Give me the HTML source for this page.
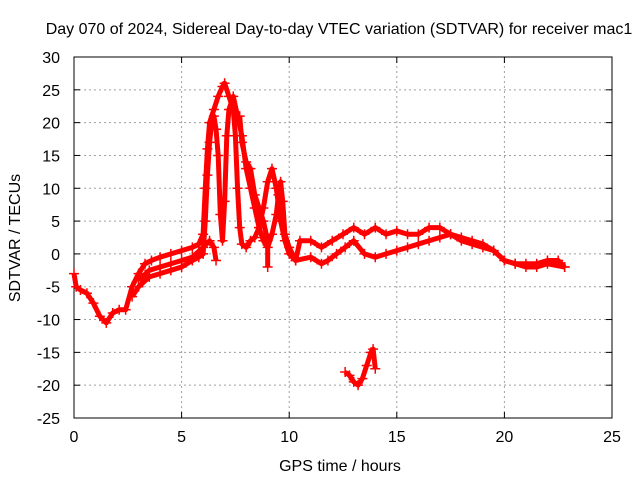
<!DOCTYPE html>
<html><head><meta charset="utf-8"><style>
body{margin:0;background:#fff}
svg text{font-family:"Liberation Sans",sans-serif;font-size:16px;fill:#000}
</style></head><body>
<svg id="c" width="640" height="480" xmlns="http://www.w3.org/2000/svg"></svg>
<script>
const xTicks=[0,5,10,15,20,25];
const yTicks=[-25,-20,-15,-10,-5,0,5,10,15,20,25,30];
const trackUpperHours=[0,0.1,0.3,0.6,0.9,1.2,1.5,1.8,2.1,2.4,2.7,3.0,3.3,3.6,4.0,4.5,5.0,5.5,5.8,6.0,6.1,6.2,6.3,6.5,6.7,6.9,7.0,7.2,7.4,7.5,7.6,7.7,7.8,8.0,8.2,8.4,8.6,8.8,9.0,9.2,9.4,9.6,9.8,10.0,10.3,10.5,11,11.5,12,12.5,13,13.5,14,14.5,15,15.5,16,16.5,17,17.5,18,18.5,19,19.5,20,20.5,21,21.5,22,22.5,22.8];
const trackUpperValues=[-3,-5,-5.5,-6,-7.5,-9.5,-10.5,-9,-8.5,-8.5,-5,-3,-1.5,-1,-0.5,0,0.5,1,1.5,3,10,16,20,22,24,25.5,26,24,22,18,10,4,1.5,1,2,2.5,4,7,11,13,10,5,2,0,-1,2,2,1,2,3,4,3,4,3,3.5,3,3,4,4,3,2.5,2,1.5,0.5,-1,-1.5,-1.5,-1.5,-1,-1,-2];
const trackLowerHours=[2.7,3.0,3.5,4.0,4.5,5.0,5.5,5.8,6.0,6.1,6.2,6.3,6.4,6.5,6.6,6.7,6.8,6.9,7.0,7.1,7.2,7.4,7.6,7.8,8.0,8.2,8.4,8.6,8.8,9.0,9.2,9.4,9.5,9.6,9.7,9.8,10.0,10.3,11,11.5,11.8,12.2,12.6,13,13.5,14,14.5,15,15.5,16,16.5,17,17.5,18,18.5,19,19.5,20,20.5,21,21.5,22,22.8];
const trackLowerValues=[-6.5,-5,-3.5,-3,-2.5,-2,-1,-0.5,0,5,12,17,20,21,19,15,6,2,8,18,22,24,21,18,13,10,7,4,2,1,3,6,9,11,8,3,1,-1,-0.5,-1.5,-1,0,1,2,0,-0.5,0,0.5,1,1.5,2,2.5,3,2,1.5,1,0.5,-1,-1.5,-2,-2,-1.5,-2];
const trackMidHours=[3.0,3.5,4.0,4.5,5.0,5.5,6.0,6.3,6.5,6.6];
const trackMidValues=[-4,-2.5,-2,-1.5,-1,-0.5,1,2,1,-1];
const trackBranchHours=[7.7,7.8,8.0,8.2,8.4,8.6,8.8,9.0,9.0];
const trackBranchValues=[21,17,14,13,9,7,5,2,-2];
const trackIsoHours=[12.6,12.8,13.0,13.2,13.4,13.6,13.8,13.9,14.0];
const trackIsoValues=[-18,-18.5,-19.5,-20,-19,-17,-15,-14.5,-17.5];
const NS="http://www.w3.org/2000/svg",svg=document.getElementById('c');
const X0=74,X1=612,Y0=418,Y1=57;
const sx=h=>X0+(h-0)/25*(X1-X0);
const sy=v=>Y0-(v+25)/55*(Y0-Y1);
function el(t,a){const e=document.createElementNS(NS,t);for(const k in a)e.setAttribute(k,a[k]);svg.appendChild(e);return e;}
xTicks.forEach(t=>{const x=sx(t);
 if(t>0&&t<25){const g=el('line',{x1:x,x2:x,y1:Y0,y2:Y1,stroke:'#a0a0a0','stroke-dasharray':'2,3'});
 
 }
 const tx=el('text',{x:x,y:Y0+24,'text-anchor':'middle'});tx.textContent=t;
 
 
 el('line',{x1:x,x2:x,y1:Y0,y2:Y0-6,stroke:'#000'});el('line',{x1:x,x2:x,y1:Y1,y2:Y1+6,stroke:'#000'});});
yTicks.forEach(t=>{const y=sy(t);
 if(t>-25&&t<30){const g=el('line',{x1:X0,x2:X1,y1:y,y2:y,stroke:'#a0a0a0','stroke-dasharray':'2,3'});
 
 }
 const tx=el('text',{x:X0-14,y:y+6,'text-anchor':'end'});tx.textContent=t;
 
 
 el('line',{x1:X0,x2:X0+6,y1:y,y2:y,stroke:'#000'});el('line',{x1:X1,x2:X1-6,y1:y,y2:y,stroke:'#000'});});
const fr=el('rect',{x:X0,y:Y1,width:X1-X0,height:Y0-Y1,fill:'none',stroke:'#000'});


function track(H,V,name){
 const pts=H.map((h,i)=>sx(h)+','+sy(V[i])).join(' ');
 const p=el('polyline',{points:pts,fill:'none',stroke:'#f00','stroke-width':5,'stroke-linejoin':'round'});
 
 
 H.forEach((h,i)=>{const x=sx(h),y=sy(V[i]);
  const m=el('path',{d:`M${x-5},${y}h10M${x},${y-5}v10`,stroke:'#f00','stroke-width':1.5});
  
  });
}
track(trackUpperHours,trackUpperValues,'series-upper-track');
track(trackLowerHours,trackLowerValues,'series-lower-track');
track(trackMidHours,trackMidValues,'series-mid-track');
track(trackBranchHours,trackBranchValues,'series-branch-track');
track(trackIsoHours,trackIsoValues,'series-isolated-track');
</script>
<svg width="640" height="480" style="position:absolute;left:0;top:0">
<text x="339" y="34" text-anchor="middle">Day 070 of 2024, Sidereal Day-to-day VTEC variation (SDTVAR) for receiver mac1</text>
<text x="340" y="471" text-anchor="middle">GPS time / hours</text>
<text x="0" y="0" transform="translate(20,238) rotate(-90)" text-anchor="middle">SDTVAR / TECUs</text>
</svg>
</body></html>
